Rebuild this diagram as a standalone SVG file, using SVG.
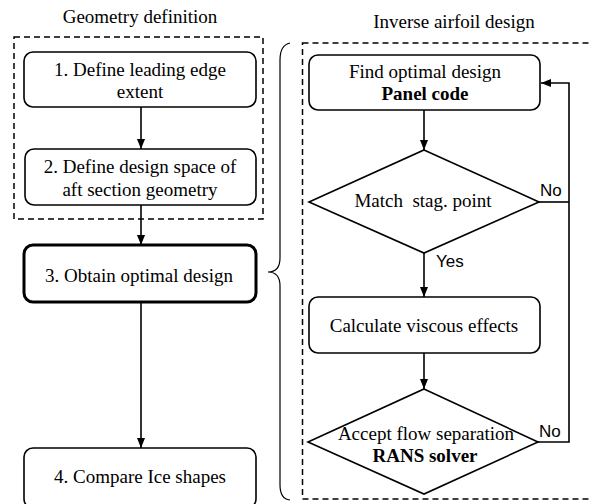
<svg xmlns="http://www.w3.org/2000/svg" width="590" height="504" viewBox="0 0 590 504">
<defs>
<style>
.t{font-family:"Liberation Serif","Times New Roman",serif;font-size:19px;fill:#000;text-anchor:middle}
.b{font-weight:bold}
.s{font-family:"Liberation Sans",Arial,sans-serif;font-size:17px;fill:#000}
.box{fill:#fff;stroke:#000;stroke-width:1.6}
.thick{stroke-width:3}
.dash{fill:none;stroke:#000;stroke-width:1.5;stroke-dasharray:6 4}
.c{fill:none;stroke:#000;stroke-width:1.6}
</style>
<marker id="ah" viewBox="0 0 10 10" refX="10" refY="5" markerWidth="10" markerHeight="10" markerUnits="userSpaceOnUse" orient="auto">
<path d="M0,1 L10,5 L0,9 Z" fill="#000"/>
</marker>
</defs>
<rect width="590" height="504" fill="#fff"/>

<text class="t" x="140" y="23">Geometry definition</text>
<text class="t" x="454" y="28">Inverse airfoil design</text>

<g id="groups">
<rect class="dash" x="14" y="37" width="249" height="182"/>
<rect class="dash" x="302.5" y="43" width="290" height="456"/>
<path d="M290,43 Q280,45 280,60 L280,258 Q280,272 268,272 Q280,272 280,286 L280,485 Q280,499 290,500" fill="none" stroke="#000" stroke-width="1.2"/>
</g>

<g id="connectors">
<line class="c" x1="141" y1="107" x2="141" y2="149" marker-end="url(#ah)"/>
<line class="c" x1="141" y1="205" x2="141" y2="245" marker-end="url(#ah)"/>
<line class="c" x1="141" y1="302" x2="141" y2="448" marker-end="url(#ah)"/>
<line class="c" x1="424" y1="110" x2="424" y2="150" marker-end="url(#ah)"/>
<line class="c" x1="424" y1="253" x2="424" y2="297" marker-end="url(#ah)"/>
<line class="c" x1="424" y1="353" x2="424" y2="389" marker-end="url(#ah)"/>
<polyline class="c" points="539,202 569,202"/>
<polyline class="c" points="538,442 569,442 569,83 541,83" marker-end="url(#ah)"/>
<text class="s" x="540" y="196">No</text>
<text class="s" x="436" y="267">Yes</text>
<text class="s" x="539" y="437">No</text>
</g>

<g id="n1">
<rect class="box" x="24" y="52" width="232" height="55" rx="9"/>
<text class="t" x="140" y="76">1. Define leading edge</text>
<text class="t" x="140" y="98">extent</text>
</g>
<g id="n2">
<rect class="box" x="25" y="149" width="231" height="56" rx="9"/>
<text class="t" x="140" y="173">2. Define design space of</text>
<text class="t" x="140" y="196">aft section geometry</text>
</g>
<g id="n3">
<rect class="box thick" x="24" y="245" width="232" height="57" rx="9"/>
<text class="t" x="139" y="282">3. Obtain optimal design</text>
</g>
<g id="n4">
<rect class="box" x="24" y="448" width="232" height="60" rx="9"/>
<text class="t" x="140" y="483">4. Compare Ice shapes</text>
</g>

<g id="r1">
<rect class="box" x="309" y="55" width="231" height="55" rx="9"/>
<text class="t" x="425" y="78">Find optimal design</text>
<text class="t b" x="425" y="100">Panel code</text>
</g>
<g id="d1">
<polygon class="box" points="424,150 539,202 424,253 309,202"/>
<text class="t" x="423" y="207" xml:space="preserve">Match  stag. point</text>
</g>
<g id="r2">
<rect class="box" x="309" y="297" width="231" height="56" rx="9"/>
<text class="t" x="424" y="332">Calculate viscous effects</text>
</g>
<g id="d2">
<polygon class="box" points="424,389 538,442 424,494 308,442"/>
<text class="t" x="426" y="440">Accept flow separation</text>
<text class="t b" x="425" y="462">RANS solver</text>
</g>
</svg>
